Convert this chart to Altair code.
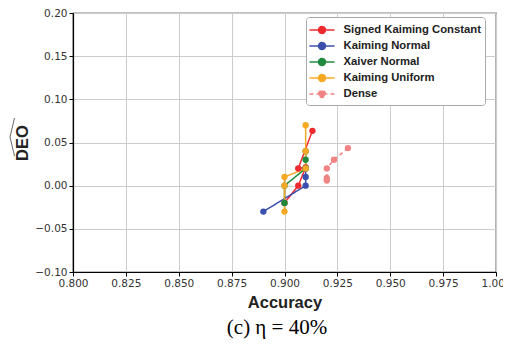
import altair as alt
import pandas as pd

series_names = ["Signed Kaiming Constant", "Kaiming Normal", "Xaiver Normal", "Kaiming Uniform", "Dense"]
colors = ["#ee2a2e", "#3a4ead", "#1f8a3c", "#f7a824", "#f08484"]

skc_acc = [0.9132, 0.9065, 0.910, 0.9065, 0.900]
skc_deo = [0.0635, 0.020, 0.021, 0.000, -0.020]
kn_acc = [0.890, 0.910, 0.910, 0.910]
kn_deo = [-0.030, 0.000, 0.010, 0.020]
xn_acc = [0.900, 0.900, 0.910, 0.910, 0.910]
xn_deo = [-0.020, 0.000, 0.020, 0.030, 0.040]
ku_acc = [0.910, 0.910, 0.910, 0.900, 0.900, 0.900]
ku_deo = [0.070, 0.040, 0.020, 0.010, 0.000, -0.030]
dense_acc = [0.930, 0.9234, 0.920, 0.920, 0.920]
dense_deo = [0.0435, 0.030, 0.020, 0.009, 0.006]

x_ticks = [0.800, 0.825, 0.850, 0.875, 0.900, 0.925, 0.950, 0.975, 1.000]
y_ticks = [-0.10, -0.05, 0.00, 0.05, 0.10, 0.15, 0.20]

rows = []
for name, accs, deos in zip(series_names,
                            [skc_acc, kn_acc, xn_acc, ku_acc, dense_acc],
                            [skc_deo, kn_deo, xn_deo, ku_deo, dense_deo]):
    for i, (a, d) in enumerate(zip(accs, deos)):
        rows.append({"series": name, "acc": a, "deo": d, "order": i})
df = pd.DataFrame(rows)

color_scale = alt.Scale(domain=series_names, range=colors)
dash_scale = alt.Scale(domain=series_names, range=[[1, 0], [1, 0], [1, 0], [1, 0], [4, 3]])
x_scale = alt.Scale(domain=[0.8, 1.0], nice=False, zero=False)
y_scale = alt.Scale(domain=[-0.1, 0.2], nice=False, zero=False)

x_enc = alt.X("acc:Q", scale=x_scale,
              axis=alt.Axis(values=x_ticks, format=".3f", title="Accuracy", labelFlush=False))
y_enc = alt.Y("deo:Q", scale=y_scale,
              axis=alt.Axis(values=y_ticks, format=".2f", title="DEO", labelFlush=False,
                            labelExpr="replace(datum.label, '-', '\u2212')"))

legend = alt.Legend(
    title=None, orient="none", legendX=233, legendY=4,
    symbolType="M-1.52,0 L1.52,0 M-0.42,0 A0.42,0.42 0 1,1 0.42,0 A0.42,0.42 0 1,1 -0.42,0 Z",
    symbolSize=272, symbolStrokeWidth=1.5, symbolOffset=3,
    labelFont="Liberation Sans", labelFontWeight="bold", labelFontSize=11.3, labelColor="#222222",
    labelOffset=12.5, rowPadding=0, padding=4, cornerRadius=3,
    strokeColor="#aaaaaa", fillColor="white", labelLimit=300,
)

lines = alt.Chart(df).mark_line(strokeWidth=1.5).encode(
    x=x_enc, y=y_enc,
    color=alt.Color("series:N", scale=color_scale, legend=legend),
    strokeDash=alt.StrokeDash("series:N", scale=dash_scale, legend=legend),
    order="order:Q",
    detail="series:N",
)
points = alt.Chart(df).mark_circle(size=40, opacity=1).encode(
    x=alt.X("acc:Q", scale=x_scale), y=alt.Y("deo:Q", scale=y_scale),
    color=alt.Color("series:N", scale=color_scale, legend=legend),
)
data_layer = alt.layer(lines, points)

caption = alt.Chart(pd.DataFrame({"t": ["(c) \u03b7 = 40%"]})).mark_text(
    font="Liberation Serif", fontSize=21, color="black", baseline="alphabetic", align="center"
).encode(x=alt.value(204), y=alt.value(321), text="t:N")

# wide hat over the rotated y-axis title (typographic decoration, pixel space)
hat_px = [-58.5, -63.0, -58.5]
hat_py = [105.0, 124.0, 143.0]
hat = alt.Chart(pd.DataFrame({"px": hat_px, "py": hat_py, "o": [0, 1, 2]})).mark_line(
    color="#444444", strokeWidth=0.8, clip=False
).encode(
    x=alt.X("px:Q", scale=None, axis=None),
    y=alt.Y("py:Q", scale=None, axis=None),
    order="o:Q",
)

chart = alt.layer(data_layer, caption, hat).resolve_scale(
    x="independent", y="independent"
).properties(
    width=423, height=259,
    autosize=alt.AutoSizeParams(type="none"),
    padding={"left": 65, "top": 5, "right": 7, "bottom": 67},
).configure_view(stroke="black", strokeWidth=1.2).configure_axis(
    grid=True, gridColor="#cccccc", gridWidth=1,
    domainColor="black", domainWidth=1.2, tickColor="black", tickSize=4,
    labelFont="DejaVu Sans", labelFontSize=10.5, labelColor="#333333",
    titleFont="Liberation Sans", titleFontWeight="bold", titleFontSize=16.5, titleColor="#222222",
).configure_axisX(labelPadding=2, titlePadding=6).configure_axisY(titlePadding=4)

chart.save("out.html", embed_options={"renderer": "svg", "actions": False})
